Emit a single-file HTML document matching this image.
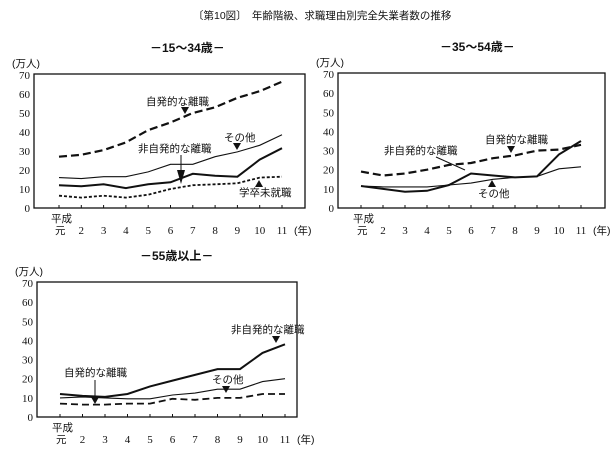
<!DOCTYPE html>
<html><head><meta charset="utf-8"><style>
body{margin:0;background:#fff}
svg{display:block}
text{font-family:"Liberation Serif","Noto Serif CJK SC","Noto Sans CJK JP",serif;fill:#111}
.j{font-family:"Liberation Sans","Noto Sans CJK JP",sans-serif;font-size:10.5px}
.t{font-family:"Liberation Sans","Noto Sans CJK JP",sans-serif;font-size:12px;font-weight:bold}
.n{font-size:11px}
</style></head><body>
<svg id="s" width="616" height="451" xmlns="http://www.w3.org/2000/svg">
<text x="193" y="19" class="j">〔第10図〕　年齢階級、求職理由別完全失業者数の推移</text>
</svg>
<script>
const s=document.getElementById('s');let h='';
function chart(L,R,T,B,x0,x11,title,tx,series,labels){
 const yv=v=>B-(v/70)*(B-T-2)-0;
 h+=`<rect x="${L}" y="${T}" width="${R-L}" height="${B-T}" fill="none" stroke="#111" stroke-width="1.3"/>`;
 h+=`<text x="${tx}" y="${T-22}" class="t">－${title}－</text>`;
 h+=`<text x="${L-22}" y="${T-7}" class="j">(万人)</text>`;
 for(let v=0;v<=70;v+=10){const y=B-(v/70)*(B-T-1);h+=`<text x="${L-4}" y="${y+4}" class="n" text-anchor="end">${v}</text>`;}
 const dx=(x11-x0)/10;
 for(let i=0;i<11;i++){const x=x0+i*dx;h+=`<line x1="${x}" y1="${B}" x2="${x}" y2="${B-3}" stroke="#111"/>`;
  if(i==0){h+=`<text x="${x-8}" y="${B+14}" class="j">平成</text><text x="${x-4}" y="${B+26}" class="j">元</text>`;}
  else h+=`<text x="${x}" y="${B+26}" class="n" text-anchor="middle">${i+1}</text>`;}
 h+=`<text x="${x11+12}" y="${B+26}" class="j">(年)</text>`;
 for(const [d,w,da] of series){const p=d.map((v,i)=>`${(x0+i*dx).toFixed(1)},${(B-(v/70)*(B-T-1)).toFixed(1)}`).join(' ');
  h+=`<polyline points="${p}" fill="none" stroke="#111" stroke-width="${w}" ${da?`stroke-dasharray="${da}"`:''}/>`;}
 for(const l of labels)h+=l;
}
const tri=(x,y,up)=>up?`<polygon points="${x-4},${y} ${x+4},${y} ${x},${y-7}" fill="#111"/>`:`<polygon points="${x-4},${y} ${x+4},${y} ${x},${y+7}" fill="#111"/>`;
chart(34,305,74,208,59,282,'15～34歳',150,[
 [[27,28,30.5,34.5,41,45,50,53,58,61.5,66.5],2.2,'8,4'],
 [[16,15.5,16.5,16.5,19,23,23,27,29.5,33,38.5],1.1],
 [[12,11.5,12.5,10.5,12.5,13.5,18,17,16.5,25.5,31.5],2],
 [[6.5,5.5,6.5,5.5,7,10,12,12.5,13,16,16.5],1.8,'3,2']
],[`<text x="146" y="105" class="j">自発的な離職</text>`,tri(185,107,0),
 `<text x="224" y="141" class="j">その他</text>`,tri(237,143,0),
 `<text x="138" y="152" class="j">非自発的な離職</text>`,`<line x1="181" y1="155" x2="181" y2="172" stroke="#111"/>`,tri(181,177,0).replace(/,177/g,',170'),
 `<text x="239" y="196" class="j">学卒未就職</text>`,tri(259,187,1)]);
chart(338,605,73,208,361,581,'35～54歳',440,[
 [[19,17,18,20,22.5,23.5,26,27.5,30,30.5,33],2.2,'8,4'],
 [[11.5,11,11,11,12,13,15,16,16.5,20.5,21.5],1.1],
 [[11.5,10,8.5,9,12,18,17,16,16.5,28,35],2]
],[`<text x="384" y="154" class="j">非自発的な離職</text>`,`<line x1="436" y1="157" x2="465" y2="170" stroke="#111"/>`,
 `<text x="485" y="143" class="j">自発的な離職</text>`,tri(511,146,0),
 `<text x="478" y="197" class="j">その他</text>`,tri(492,187,1)]);
chart(37,297,282,417,60,285,'55歳以上',140,[
 [[12,11,10.5,12,16,19,22,25,25,33.5,38],2],
 [[10,10.5,10,9.5,9.5,11.5,12.5,14.5,14.5,18.5,20],1.1],
 [[7,6.5,6.5,7,7,9.5,9,10,10,12,12],1.8,'7,4']
],[`<text x="231" y="333" class="j">非自発的な離職</text>`,tri(276,336,0),
 `<text x="64" y="376" class="j">自発的な離職</text>`,`<line x1="95" y1="380" x2="95" y2="398" stroke="#111"/>`,tri(95,397,0),
 `<text x="212" y="383" class="j">その他</text>`,tri(226,386,0)]);
s.insertAdjacentHTML('beforeend',h);
</script>
</body></html>
